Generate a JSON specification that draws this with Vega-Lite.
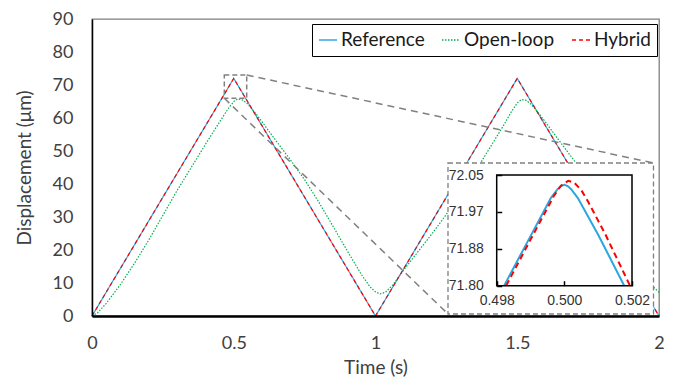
{
  "$schema": "https://vega.github.io/schema/vega-lite/v6.json",
  "width": 567,
  "height": 297,
  "autosize": {"type": "none"},
  "padding": {"left": 92, "top": 19, "right": 16, "bottom": 62},
  "config": {"view": {"stroke": "#7f7f7f", "strokeWidth": 1.3}, "font": "Lato"},
  "datasets": {
    "main": [
      {"series": "Reference", "t": 0, "v": 0},
      {"series": "Reference", "t": 0.25, "v": 36},
      {"series": "Reference", "t": 0.5, "v": 72},
      {"series": "Reference", "t": 0.75, "v": 36},
      {"series": "Reference", "t": 1, "v": 0},
      {"series": "Reference", "t": 1.25, "v": 36},
      {"series": "Reference", "t": 1.5, "v": 72},
      {"series": "Reference", "t": 1.75, "v": 36},
      {"series": "Reference", "t": 2, "v": 0},
      {"series": "Open-loop", "t": 0, "v": 0},
      {"series": "Open-loop", "t": 0.02, "v": 1},
      {"series": "Open-loop", "t": 0.05, "v": 3.8},
      {"series": "Open-loop", "t": 0.1, "v": 9.5},
      {"series": "Open-loop", "t": 0.15, "v": 16},
      {"series": "Open-loop", "t": 0.2, "v": 23},
      {"series": "Open-loop", "t": 0.25, "v": 30.5},
      {"series": "Open-loop", "t": 0.3, "v": 38},
      {"series": "Open-loop", "t": 0.35, "v": 45},
      {"series": "Open-loop", "t": 0.4, "v": 52},
      {"series": "Open-loop", "t": 0.45, "v": 58.8},
      {"series": "Open-loop", "t": 0.48, "v": 62.8},
      {"series": "Open-loop", "t": 0.5, "v": 65},
      {"series": "Open-loop", "t": 0.515, "v": 65.8},
      {"series": "Open-loop", "t": 0.53, "v": 65.5},
      {"series": "Open-loop", "t": 0.55, "v": 64.2},
      {"series": "Open-loop", "t": 0.575, "v": 61.6},
      {"series": "Open-loop", "t": 0.6, "v": 58.8},
      {"series": "Open-loop", "t": 0.65, "v": 53},
      {"series": "Open-loop", "t": 0.7, "v": 47.3},
      {"series": "Open-loop", "t": 0.75, "v": 41.3},
      {"series": "Open-loop", "t": 0.8, "v": 34.5},
      {"series": "Open-loop", "t": 0.85, "v": 27.2},
      {"series": "Open-loop", "t": 0.9, "v": 19.8},
      {"series": "Open-loop", "t": 0.95, "v": 12.6},
      {"series": "Open-loop", "t": 0.98, "v": 8.9},
      {"series": "Open-loop", "t": 1.0, "v": 7.3},
      {"series": "Open-loop", "t": 1.016, "v": 6.7},
      {"series": "Open-loop", "t": 1.035, "v": 7.2},
      {"series": "Open-loop", "t": 1.06, "v": 9.3},
      {"series": "Open-loop", "t": 1.1, "v": 14},
      {"series": "Open-loop", "t": 1.15, "v": 19.5},
      {"series": "Open-loop", "t": 1.2, "v": 25},
      {"series": "Open-loop", "t": 1.25, "v": 30.8},
      {"series": "Open-loop", "t": 1.3, "v": 37},
      {"series": "Open-loop", "t": 1.35, "v": 43.5},
      {"series": "Open-loop", "t": 1.4, "v": 50.5},
      {"series": "Open-loop", "t": 1.45, "v": 57.5},
      {"series": "Open-loop", "t": 1.48, "v": 62},
      {"series": "Open-loop", "t": 1.5, "v": 64.6},
      {"series": "Open-loop", "t": 1.515, "v": 65.6},
      {"series": "Open-loop", "t": 1.53, "v": 65.4},
      {"series": "Open-loop", "t": 1.55, "v": 64.1},
      {"series": "Open-loop", "t": 1.575, "v": 61.5},
      {"series": "Open-loop", "t": 1.6, "v": 58.7},
      {"series": "Open-loop", "t": 1.65, "v": 52.9},
      {"series": "Open-loop", "t": 1.7, "v": 47.2},
      {"series": "Open-loop", "t": 1.75, "v": 41.2},
      {"series": "Open-loop", "t": 1.8, "v": 34.4},
      {"series": "Open-loop", "t": 1.85, "v": 27.1},
      {"series": "Open-loop", "t": 1.9, "v": 19.7},
      {"series": "Open-loop", "t": 1.95, "v": 12.5},
      {"series": "Open-loop", "t": 1.98, "v": 8.8},
      {"series": "Open-loop", "t": 2.0, "v": 7.2},
      {"series": "Hybrid", "t": 0, "v": 0},
      {"series": "Hybrid", "t": 0.25, "v": 36},
      {"series": "Hybrid", "t": 0.5, "v": 72},
      {"series": "Hybrid", "t": 0.75, "v": 36},
      {"series": "Hybrid", "t": 1, "v": 0},
      {"series": "Hybrid", "t": 1.25, "v": 36},
      {"series": "Hybrid", "t": 1.5, "v": 72},
      {"series": "Hybrid", "t": 1.75, "v": 36},
      {"series": "Hybrid", "t": 2, "v": 0}
    ],
    "zoom": [{"t": 0.4667, "t2": 0.5457, "v": 65.97, "v2": 73.03}],
    "links": [
      {"t": 0.5457, "v": 73.03, "t2": 1.9806, "v2": 46.36},
      {"t": 0.4667, "v": 65.97, "t2": 1.2557, "v2": 0.6}
    ],
    "insetbox": [{"t": 1.2557, "t2": 1.9806, "v": 0.6, "v2": 46.36}],
    "inset": [
      {"series": "Reference", "t": 0.49822, "v": 71.8},
      {"series": "Reference", "t": 0.499, "v": 71.912},
      {"series": "Reference", "t": 0.4996, "v": 71.998},
      {"series": "Reference", "t": 0.4998, "v": 72.018},
      {"series": "Reference", "t": 0.4999, "v": 72.025},
      {"series": "Reference", "t": 0.5, "v": 72.028},
      {"series": "Reference", "t": 0.5001, "v": 72.025},
      {"series": "Reference", "t": 0.5002, "v": 72.018},
      {"series": "Reference", "t": 0.5004, "v": 71.998},
      {"series": "Reference", "t": 0.501, "v": 71.915},
      {"series": "Reference", "t": 0.50177, "v": 71.8},
      {"series": "Hybrid", "t": 0.49828, "v": 71.8},
      {"series": "Hybrid", "t": 0.499, "v": 71.904},
      {"series": "Hybrid", "t": 0.4997, "v": 72.004},
      {"series": "Hybrid", "t": 0.4999, "v": 72.026},
      {"series": "Hybrid", "t": 0.5001, "v": 72.036},
      {"series": "Hybrid", "t": 0.50012, "v": 72.037},
      {"series": "Hybrid", "t": 0.5003, "v": 72.032},
      {"series": "Hybrid", "t": 0.5005, "v": 72.016},
      {"series": "Hybrid", "t": 0.5007, "v": 71.99},
      {"series": "Hybrid", "t": 0.5012, "v": 71.918},
      {"series": "Hybrid", "t": 0.50194, "v": 71.8}
    ],
    "frame": [{"t": 0.498, "t2": 0.502, "v": 71.8, "v2": 72.05}]
  },
  "layer": [
    {
      "encoding": {
        "x": {
          "field": "t", "type": "quantitative",
          "scale": {"domain": [0, 2], "nice": false, "zero": false},
          "axis": {
            "orient": "bottom", "title": "Time (s)", "values": [0, 0.5, 1, 1.5, 2], "format": "~g",
            "labelFlush": false, "ticks": false, "grid": false, "zindex": 1,
            "domainColor": "black", "domainWidth": 2.5,
            "labelFont": "Lato", "labelFontSize": 18, "labelColor": "#404040", "labelPadding": 18,
            "titleFont": "Lato", "titleFontSize": 19, "titleFontWeight": "normal", "titleColor": "#404040", "titlePadding": 6
          }
        },
        "y": {
          "field": "v", "type": "quantitative",
          "scale": {"domain": [0, 90], "nice": false},
          "axis": {
            "orient": "left", "title": "Displacement (μm)", "values": [0, 10, 20, 30, 40, 50, 60, 70, 80, 90],
            "ticks": false, "grid": false, "zindex": 1,
            "domainColor": "black", "domainWidth": 1.5,
            "labelFont": "Lato", "labelFontSize": 18, "labelColor": "#404040", "labelPadding": 19,
            "titleFont": "Lato", "titleFontSize": 19, "titleFontWeight": "normal", "titleColor": "#404040", "titlePadding": 18
          }
        }
      },
      "layer": [
        {
          "data": {"name": "main"},
          "mark": {"type": "line", "strokeWidth": 1.2},
          "encoding": {
            "color": {
              "field": "series", "type": "nominal",
              "scale": {"domain": ["Reference", "Open-loop", "Hybrid"], "range": ["#35A8E0", "#00B050", "#FF0000"]},
              "legend": {
                "orient": "none", "legendX": 220, "legendY": 5, "direction": "horizontal", "title": null,
                "strokeColor": "black", "fillColor": "white", "padding": 6,
                "symbolType": "stroke", "symbolSize": 324, "symbolStrokeWidth": 1.5,
                "labelFont": "Lato", "labelFontSize": 19, "labelColor": "#1a1a1a", "labelOffset": 3, "columnPadding": 14
              }
            },
            "strokeDash": {
              "field": "series", "type": "nominal",
              "scale": {"domain": ["Reference", "Open-loop", "Hybrid"], "range": [[1, 0], [1.5, 1.5], [4, 3]]},
              "legend": {
                "orient": "none", "legendX": 220, "legendY": 5, "direction": "horizontal", "title": null,
                "strokeColor": "black", "fillColor": "white", "padding": 6,
                "symbolType": "stroke", "symbolSize": 324, "symbolStrokeWidth": 1.5,
                "labelFont": "Lato", "labelFontSize": 19, "labelColor": "#1a1a1a", "labelOffset": 3, "columnPadding": 14
              }
            }
          }
        },
        {
          "data": {"name": "zoom"},
          "mark": {"type": "rect", "fill": "white", "fillOpacity": 0, "stroke": "#808080", "strokeWidth": 1.5, "strokeDash": [5, 3]},
          "encoding": {"x2": {"field": "t2"}, "y2": {"field": "v2"}}
        },
        {
          "data": {"name": "links"},
          "mark": {"type": "rule", "stroke": "#808080", "strokeWidth": 1.5, "strokeDash": [7, 5]},
          "encoding": {"x2": {"field": "t2"}, "y2": {"field": "v2"}}
        },
        {
          "data": {"name": "insetbox"},
          "mark": {"type": "rect", "fill": "white", "fillOpacity": 1, "stroke": "#808080", "strokeWidth": 1.3, "strokeDash": [5, 3]},
          "encoding": {"x2": {"field": "t2"}, "y2": {"field": "v2"}}
        }
      ]
    },
    {
      "encoding": {
        "x": {
          "field": "t", "type": "quantitative",
          "scale": {"domain": [0.498, 0.502], "range": [404.7, 540], "nice": false, "zero": false},
          "axis": {
            "orient": "bottom", "offset": -30.3, "title": null, "values": [0.498, 0.5, 0.502], "format": ".3f",
            "labelFlush": false, "grid": false, "domain": false, "zindex": 2,
            "ticks": true, "tickSize": -5, "tickColor": "black", "tickWidth": 1.5,
            "labelFont": "Liberation Sans", "labelFontSize": 14, "labelColor": "#333333", "labelPadding": 13
          }
        },
        "y": {
          "field": "v", "type": "quantitative",
          "scale": {"domain": [71.8, 72.05], "range": [266.7, 156], "nice": false, "zero": false},
          "axis": {
            "orient": "left", "offset": -404.7, "title": null, "values": [71.8, 71.88333, 71.96667, 72.05], "format": ".2f",
            "grid": false, "domain": false, "zindex": 2,
            "ticks": true, "tickSize": -5, "tickColor": "black", "tickWidth": 1.5,
            "labelFont": "Liberation Sans", "labelFontSize": 14, "labelColor": "#333333", "labelPadding": 18.4
          }
        }
      },
      "layer": [
        {
          "data": {"name": "inset"},
          "transform": [{"filter": "datum.series === 'Reference'"}],
          "mark": {"type": "line", "stroke": "#29A8E0", "strokeWidth": 2}
        },
        {
          "data": {"name": "inset"},
          "transform": [{"filter": "datum.series === 'Hybrid'"}],
          "mark": {"type": "line", "stroke": "#FF0000", "strokeWidth": 2, "strokeDash": [6, 4]}
        },
        {
          "data": {"name": "frame"},
          "mark": {"type": "rect", "fill": "white", "fillOpacity": 0, "stroke": "black", "strokeWidth": 1.5},
          "encoding": {"x2": {"field": "t2"}, "y2": {"field": "v2"}}
        }
      ]
    }
  ],
  "resolve": {
    "scale": {"x": "independent", "y": "independent"},
    "axis": {"x": "independent", "y": "independent"}
  }
}
